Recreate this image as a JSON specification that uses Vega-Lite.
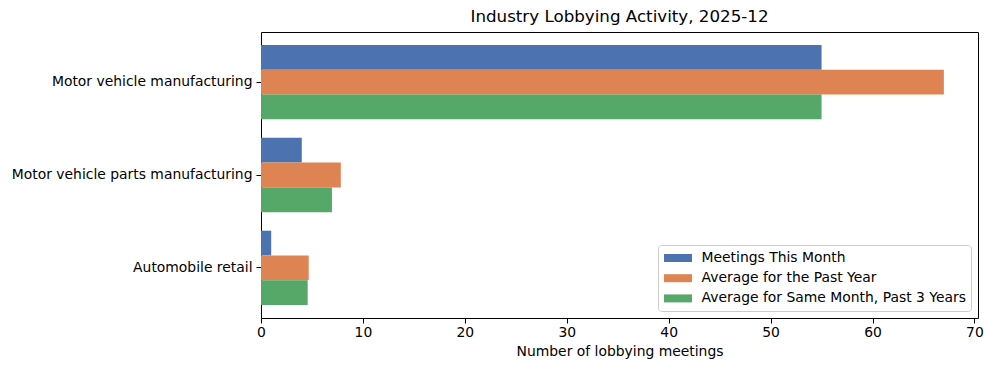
{
  "$schema": "https://vega.github.io/schema/vega-lite/v6.json",
  "width": 717,
  "height": 286,
  "autosize": {"type": "none"},
  "padding": {"left": 261, "top": 32, "right": 12, "bottom": 53},
  "background": "white",
  "title": {
    "text": "Industry Lobbying Activity, 2025-12",
    "font": "DejaVu Sans",
    "fontSize": 16.7,
    "fontWeight": "normal",
    "color": "black",
    "anchor": "middle",
    "offset": 6
  },
  "config": {
    "view": {"stroke": "black", "strokeWidth": 1},
    "font": "DejaVu Sans",
    "axis": {
      "labelFont": "DejaVu Sans",
      "titleFont": "DejaVu Sans",
      "labelFontSize": 13.9,
      "titleFontSize": 13.9,
      "titleFontWeight": "normal",
      "labelColor": "black",
      "titleColor": "black",
      "domainColor": "black",
      "tickColor": "black",
      "tickSize": 5,
      "labelLimit": 0,
      "grid": false
    },
    "legend": {
      "labelFont": "DejaVu Sans",
      "labelFontSize": 13.9,
      "labelColor": "black",
      "labelLimit": 0
    }
  },
  "data": {
    "values": [
      {"category": "Motor vehicle manufacturing", "series": "Meetings This Month", "value": 55},
      {"category": "Motor vehicle manufacturing", "series": "Average for the Past Year", "value": 67},
      {"category": "Motor vehicle manufacturing", "series": "Average for Same Month, Past 3 Years", "value": 55},
      {"category": "Motor vehicle parts manufacturing", "series": "Meetings This Month", "value": 4},
      {"category": "Motor vehicle parts manufacturing", "series": "Average for the Past Year", "value": 7.83},
      {"category": "Motor vehicle parts manufacturing", "series": "Average for Same Month, Past 3 Years", "value": 6.96},
      {"category": "Automobile retail", "series": "Meetings This Month", "value": 1},
      {"category": "Automobile retail", "series": "Average for the Past Year", "value": 4.68},
      {"category": "Automobile retail", "series": "Average for Same Month, Past 3 Years", "value": 4.58}
    ]
  },
  "mark": {"type": "bar"},
  "encoding": {
    "y": {
      "field": "category",
      "type": "nominal",
      "sort": ["Motor vehicle manufacturing", "Motor vehicle parts manufacturing", "Automobile retail"],
      "scale": {"paddingInner": 0.2, "paddingOuter": 0.14},
      "axis": {"title": null, "labelPadding": 4, "domain": false}
    },
    "yOffset": {
      "field": "series",
      "type": "nominal",
      "sort": ["Meetings This Month", "Average for the Past Year", "Average for Same Month, Past 3 Years"],
      "scale": {"paddingInner": 0, "paddingOuter": 0}
    },
    "x": {
      "field": "value",
      "type": "quantitative",
      "scale": {"domain": [0, 70.35], "nice": false, "zero": true},
      "axis": {
        "title": "Number of lobbying meetings",
        "values": [0, 10, 20, 30, 40, 50, 60, 70],
        "labelPadding": 2,
        "titlePadding": 6,
        "domain": false,
        "labelFlush": false
      }
    },
    "color": {
      "field": "series",
      "type": "nominal",
      "scale": {
        "domain": ["Meetings This Month", "Average for the Past Year", "Average for Same Month, Past 3 Years"],
        "range": ["#4C72B0", "#DD8452", "#55A868"]
      },
      "legend": {
        "title": null,
        "orient": "bottom-right",
        "offset": 7,
        "fillColor": "white",
        "strokeColor": "#cccccc",
        "cornerRadius": 3,
        "padding": 5,
        "rowPadding": 5.2,
        "labelOffset": 15.5,
        "symbolOffset": 7,
        "symbolType": "M-1.75,-0.5H1.75V0.5H-1.75Z",
        "symbolSize": 256,
        "symbolStrokeWidth": 0,
        "symbolOpacity": 1
      }
    }
  }
}
